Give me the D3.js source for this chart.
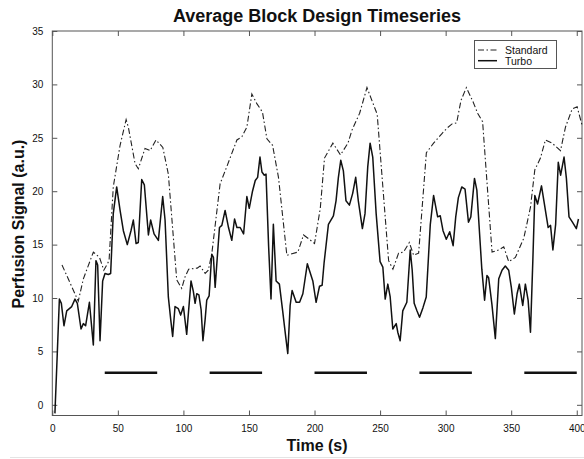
<!DOCTYPE html>
<html>
<head>
<meta charset="utf-8">
<script src="https://cdn.jsdelivr.net/npm/d3@7"></script>
<style>
  body { margin: 0; background: #fff; }
  svg { display: block; font-family: "Liberation Sans", Arial, Helvetica, sans-serif; }
</style>
</head>
<body>
<svg width="584" height="459"></svg>
<script>
// standard sequence (dash-dot), time in s / signal in a.u.
var stdTime = [7.4,19.8,23.7,31.3,36,39.3,43.3,46.5,51.7,56.3,58,63.1,65.6,70.7,74.6,79.1,84.3,88.5,94.9,98.7,101.3,104,110.5,112.7,116.6,119,121.7,128,133.1,140.8,144.6,148.4,152.2,156,160.3,163.7,168,172.5,178.9,187.3,191.6,195,200,204.4,207.6,214,219.8,225.5,228.5,234.4,240,247.8,256.5,259.8,264.1,267.9,272.3,275.6,279.4,285.3,290.8,297.2,301,304.9,308.4,311.7,315.8,320.8,324.4,328.2,335.4,340.5,344.3,348.1,353.2,359.6,364.7,368,372.3,376.1,381.2,387.6,391.4,396.5,400.3,404];
var stdSignal = [13.1,9.7,11.8,14.3,13.8,12.6,13.5,20.4,24.3,26.7,26,22.6,22.1,24,23.8,24.8,24.1,21.6,11.7,10.9,12.0,12.7,12.8,13,12.3,12.6,14.2,20.7,22.3,24.8,25.1,26.0,29.1,28.2,27.4,24.9,24.3,21.3,14.0,14.3,15.9,15.6,15.1,18.4,23.1,24.5,23.4,24.5,25.7,27.3,29.7,27.2,13.5,12.7,14.2,14.3,15.2,14.0,14.2,23.6,24.5,25.4,25.9,26.3,26.4,28.5,29.7,28.4,27.3,26.5,14.3,14.5,14.8,13.4,13.8,15.6,18.5,22.0,23.1,24.8,24.5,23.8,26.0,27.7,27.9,26.2];

// turbo sequence (solid)
var turboTime = [2,3.8,5.4,6.9,8.9,11,14.8,17.3,19.1,21.9,23.7,25.4,28.3,31.3,33.3,34.6,36.4,38.4,40.2,42.7,44.5,46.5,49.1,51.7,54.2,57.2,60,61.8,63.9,65.6,68.2,70.2,73.3,75,77.6,80.9,84.2,86,88.5,90.3,91.8,93.6,96.1,97.9,100,102.5,105.8,107.6,108.9,110.2,111.8,113.5,114.9,116.5,117.8,119.6,121.6,122.9,124.2,126,127.5,129.3,131.8,134.4,136.9,139,140.8,143.3,145.9,148.4,150.2,152.7,154.8,156.6,158.4,159.9,161.7,163,165,166.8,168.6,170.7,173.2,175.7,177.8,179.6,181.4,182.9,186,188.6,191.1,194.5,198.7,201.2,203.8,205.8,207.3,210.6,214.4,216.4,218.2,220,222,224,226.6,229.1,231.4,233.4,236.5,238.5,240.6,242.4,244.4,247,250,252.1,253.9,255.9,257.7,259.7,262.3,263.5,265.3,267.3,270.4,273,274.5,276,278.1,280.1,282.7,285.2,288.3,290.8,293.9,295.9,298,300.5,303.1,305.7,307.7,309.7,312.3,314.8,317.4,319.2,322,323.8,325.9,327.6,329.7,331.5,332.8,335.3,337.9,340.5,343,345.5,348.1,350.1,352.4,354.5,356.2,358.8,360.8,362.9,364.7,366.5,368,370.1,373.1,375.7,378.2,380,381.8,383.9,385.9,387.7,390.3,392.1,394.1,396.7,399.7,401.3];
var turboSignal = [-0.8,4.8,9.9,9.5,7.4,8.8,9.2,9.9,9.5,7.1,7.6,7.4,9.6,5.6,13.5,13.1,6.0,11.6,12.3,12.2,12.3,17.9,20.4,18.2,16.3,15.0,16.3,17.3,15.1,15.2,21.1,20.6,15.9,17.3,16.0,15.4,19.5,17.3,10.1,8.0,6.4,9.2,9.0,8.4,9.2,6.6,11.6,10.6,9.5,10.4,10.3,8.9,6.0,7.9,9.8,10.2,14.1,13.8,11.0,14.1,16.6,16.8,18.2,16.6,15.4,17.4,16.6,16.6,16.0,19.5,18.4,20.0,21.0,21.3,23.2,21.8,21.5,21.6,14.8,9.9,16.9,11.6,11.3,8.8,6.6,4.8,9.3,10.7,9.6,9.6,10.4,13.2,11.6,9.6,11.1,11.2,13.3,16.9,17.7,19.1,21.3,22.9,21.9,19.1,18.7,19.8,21.3,19.1,16.5,17.9,22.3,24.5,23.2,17.9,13.4,12.9,9.9,11.3,10.1,7.1,7.6,6.8,6.0,8.8,9.6,14.5,12.6,9.5,8.8,8.2,9.1,10.1,16.9,19.6,17.6,17.7,16.3,15.5,16.2,14.9,17.6,19.4,20.4,20.2,17.1,17.6,21.2,20.1,16.0,12.7,9.8,12.1,11.9,9.4,6.2,11.8,12.6,13.0,12.6,11.0,8.5,10.4,11.3,9.3,11.3,9.8,6.8,13.5,19.6,18.8,20.5,18.5,16.6,16.8,14.5,16.9,22.7,21.5,23.2,21.2,17.6,17.1,16.5,17.4];

// task blocks (start, end) drawn at signal level 3
var blockStart = [40, 120, 200, 280, 360];
var blockEnd = [80, 160, 240, 320, 400];
var blockLevel = 3;

var xTicks = [0,50,100,150,200,250,300,350,400];
var yTicks = [0,5,10,15,20,25,30,35];

var svg = d3.select("svg");

var x = d3.scaleLinear().domain([0, 404]).range([52.3, 582]);
var y = d3.scaleLinear().domain([-1, 35]).range([415.5, 31]);

var ink = "#111";

// plot box
svg.append("rect")
    .attr("x", x(0)).attr("y", y(35))
    .attr("width", x(404) - x(0)).attr("height", y(-1) - y(35))
    .attr("fill", "none").attr("stroke", "#555").attr("stroke-width", 1);

// axes with inward ticks
function styleAxis(g) {
  g.select(".domain").remove();
  g.selectAll(".tick line").attr("stroke", "#555");
  g.selectAll(".tick text").attr("fill", ink).attr("font-size", "10px");
}

svg.append("g").attr("transform", "translate(0," + y(-1) + ")")
    .call(d3.axisBottom(x).tickValues(xTicks).tickSizeInner(-5).tickPadding(9).tickFormat(d3.format("d")))
    .call(styleAxis);
svg.append("g").attr("transform", "translate(0," + y(35) + ")")
    .call(d3.axisTop(x).tickValues(xTicks).tickSizeInner(-5).tickFormat(""))
    .call(styleAxis);
svg.append("g").attr("transform", "translate(" + x(0) + ",0)")
    .call(d3.axisLeft(y).tickValues(yTicks).tickSizeInner(-5).tickPadding(9).tickFormat(d3.format("d")))
    .call(styleAxis);
svg.append("g").attr("transform", "translate(" + x(404) + ",0)")
    .call(d3.axisRight(y).tickValues(yTicks).tickSizeInner(-5).tickFormat(""))
    .call(styleAxis);

var line = d3.line()
    .x(function(d) { return x(d[0]); })
    .y(function(d) { return y(d[1]); });

var stdData = d3.zip(stdTime, stdSignal);
var turboData = d3.zip(turboTime, turboSignal);

svg.append("path")
    .datum(stdData)
    .attr("d", line)
    .attr("fill", "none")
    .attr("stroke", "#222")
    .attr("stroke-width", 1.1)
    .attr("stroke-dasharray", "6,2.5,1.5,2.5");

svg.append("path")
    .datum(turboData)
    .attr("d", line)
    .attr("fill", "none")
    .attr("stroke", ink)
    .attr("stroke-width", 1.5)
    .attr("stroke-linejoin", "round");

// block bars
svg.append("g").selectAll("line")
    .data(d3.zip(blockStart, blockEnd))
    .enter().append("line")
      .attr("x1", function(d) { return x(d[0]); })
      .attr("x2", function(d) { return x(d[1]); })
      .attr("y1", y(blockLevel))
      .attr("y2", y(blockLevel))
      .attr("stroke", ink)
      .attr("stroke-width", 2.6);

// legend
var legend = svg.append("g");
legend.append("rect")
    .attr("x", 474.5).attr("y", 40.5).attr("width", 82).attr("height", 28)
    .attr("fill", "#fff").attr("stroke", "#555").attr("stroke-width", 1);
legend.append("line")
    .attr("x1", 478).attr("x2", 497).attr("y1", 50).attr("y2", 50)
    .attr("stroke", "#222").attr("stroke-width", 1.1)
    .attr("stroke-dasharray", "6,2.5,1.5,2.5");
legend.append("line")
    .attr("x1", 478).attr("x2", 497).attr("y1", 60.7).attr("y2", 60.7)
    .attr("stroke", ink).attr("stroke-width", 1.5);
legend.append("text").attr("x", 505).attr("y", 53.5)
    .attr("font-size", "10.5px").attr("fill", ink).text("Standard");
legend.append("text").attr("x", 505).attr("y", 64.5)
    .attr("font-size", "10.5px").attr("fill", ink).text("Turbo");

// titles
svg.append("text")
    .attr("x", 317).attr("y", 22)
    .attr("text-anchor", "middle")
    .attr("font-size", "18px").attr("font-weight", "bold").attr("fill", ink)
    .text("Average Block Design Timeseries");

svg.append("text")
    .attr("x", 317).attr("y", 450.5)
    .attr("text-anchor", "middle")
    .attr("font-size", "16px").attr("font-weight", "bold").attr("fill", ink)
    .text("Time (s)");

svg.append("text")
    .attr("transform", "translate(24,224) rotate(-90)")
    .attr("text-anchor", "middle")
    .attr("font-size", "16px").attr("font-weight", "bold").attr("fill", ink)
    .text("Perfusion Signal (a.u.)");

// faint rule along the bottom of the image
svg.append("line")
    .attr("x1", 10).attr("x2", 584).attr("y1", 457.5).attr("y2", 457.5)
    .attr("stroke", "#e4e4e4").attr("stroke-width", 1);
</script>
</body>
</html>
